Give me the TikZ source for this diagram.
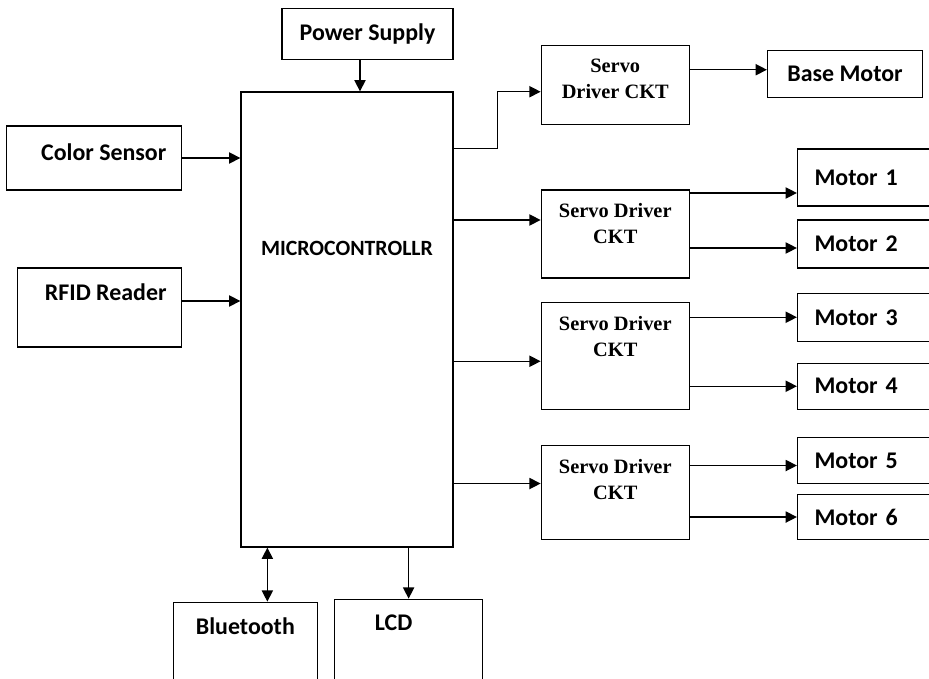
\documentclass[tikz,border=0pt]{standalone}
\usepackage{fontspec}
\newfontfamily\calib{Carlito}
\newfontfamily\tms{Liberation Serif}
\usetikzlibrary{positioning, arrows.meta}

\begin{document}
\begin{tikzpicture}[
    node distance=0.8cm and 0.4cm,
    box/.style={draw, line width=0.9pt, inner sep=0pt, font=\calib\bfseries\fontsize{17}{20}\selectfont},
    lbl/.style={font=\calib\bfseries\fontsize{17}{20}\selectfont, anchor=center},
    srvtxt/.style={font=\tms\bfseries\fontsize{14.5}{18.5}\selectfont, align=center, anchor=center},
    servo/.style={box, minimum width=3.7cm},
    motor/.style={box, text width=2.9cm, inner xsep=0.425cm, align=left},
    arrow/.style={-{Triangle[length=0.28cm, width=0.28cm]}, line width=0.9pt},
    twoway/.style={{Triangle[length=0.28cm, width=0.28cm]}-{Triangle[length=0.28cm, width=0.28cm]}, line width=0.9pt}
]
\useasboundingbox (-8.675,-8.9875) rectangle (14.55,7.9875);

% Nodes
\node[box, minimum width=5.3cm, minimum height=11.375cm,
    label={[lbl, font=\calib\bfseries\fontsize{15.5}{18}\selectfont, yshift=1.7875cm]center:MICROCONTROLLR}] (micro) {};
\node[box, minimum width=4.275cm, minimum height=1.275cm, above=0.775cm of micro, xshift=0.5125cm] (power) {Power Supply};

\node[box, minimum width=4.375cm, minimum height=1.6cm, below left=0.85cm and 1.45cm of micro.north west,
    label={[lbl, xshift=0.2375cm, yshift=0.15cm]center:Color Sensor}] (color) {};
\node[box, minimum width=4.1cm, minimum height=1.975cm, below left=4.4cm and 1.45cm of micro.north west,
    label={[lbl, xshift=0.15cm, yshift=0.375cm]center:RFID Reader}] (rfid) {};

\node[servo, minimum height=2.2cm, below right=2.45cm and 2.175cm of micro.north east,
    label={[srvtxt, yshift=0.25cm]center:Servo Driver\\CKT}] (servo2) {};
\node[servo, minimum height=1.975cm, above=1.6cm of servo2,
    label={[srvtxt, yshift=0.15cm]center:Servo\\Driver CKT}] (servo1) {};
\node[servo, minimum height=2.675cm, below=0.575cm of servo2,
    label={[srvtxt, yshift=0.4875cm]center:Servo Driver\\CKT}] (servo3) {};
\node[servo, minimum height=2.35cm, below=0.875cm of servo3,
    label={[srvtxt, yshift=0.325cm]center:Servo Driver\\CKT}] (servo4) {};

\node[box, minimum width=3.875cm, minimum height=1.175cm, right=1.925cm of servo1, yshift=0.275cm] (base) {Base Motor};
\node[motor, minimum height=1.425cm, right=2.675cm of servo2, yshift=1.4125cm] (motor1) {Motor 1};
\node[motor, minimum height=1.2cm, right=2.675cm of servo2, yshift=-0.25cm] (motor2) {Motor 2};
\node[motor, minimum height=1.2cm, right=2.675cm of servo3, yshift=0.9625cm] (motor3) {Motor 3};
\node[motor, minimum height=1.15cm, right=2.675cm of servo3, yshift=-0.7625cm] (motor4) {Motor 4};
\node[motor, minimum height=1.15cm, right=2.675cm of servo4, yshift=0.8cm] (motor5) {Motor 5};
\node[motor, minimum height=1.125cm, right=2.675cm of servo4, yshift=-0.6125cm] (motor6) {Motor 6};

\node[box, minimum width=3.6cm, minimum height=2.25cm, below left=1.35cm and 0.725cm of micro.south,
    label={[lbl, yshift=-0.625cm]north:Bluetooth}] (bt) {};
\node[box, minimum width=3.7cm, minimum height=2.3cm, right=0.4cm of bt.north east, anchor=north west, yshift=0.075cm,
    label={[lbl, xshift=-0.375cm, yshift=-0.6cm]north:LCD}] (lcd) {};

% Arrows
\draw[arrow] ([xshift=-0.1875cm]power.south) -- ([xshift=-0.1875cm]power.south |- micro.north);
\draw[arrow] (color.east) -- (color.east -| micro.west);
\draw[arrow] ([yshift=0.1625cm]rfid.east) -- ([yshift=0.1625cm]rfid.east -| micro.west);
\draw[arrow] ([yshift=-1.425cm]micro.north east) -- ++(1.1,0) |- ([yshift=-0.1625cm]servo1.west);
\draw[arrow] ([yshift=0.35cm]servo2.west -| micro.east) -- ([yshift=0.35cm]servo2.west);
\draw[arrow] ([yshift=-0.1375cm]servo3.west -| micro.east) -- ([yshift=-0.1375cm]servo3.west);
\draw[arrow] ([yshift=0.225cm]servo4.west -| micro.east) -- ([yshift=0.225cm]servo4.west);
\draw[arrow] ([yshift=0.1125cm]base.west -| servo1.east) -- ([yshift=0.1125cm]base.west);
\draw[arrow] ([yshift=-0.3875cm]motor1.west -| servo2.east) -- ([yshift=-0.3875cm]motor1.west);
\draw[arrow] ([yshift=-0.1cm]motor2.west -| servo2.east) -- ([yshift=-0.1cm]motor2.west);
\draw[arrow] (motor3.west -| servo3.east) -- (motor3.west);
\draw[arrow] (motor4.west -| servo3.east) -- (motor4.west);
\draw[arrow] ([yshift=-0.125cm]motor5.west -| servo4.east) -- ([yshift=-0.125cm]motor5.west);
\draw[arrow] (motor6.west -| servo4.east) -- (motor6.west);
\draw[twoway] ([xshift=0.55cm]bt.north) -- ([xshift=0.55cm]bt.north |- micro.south);
\draw[arrow] (lcd.north |- micro.south) -- (lcd.north);

\end{tikzpicture}
\end{document}
